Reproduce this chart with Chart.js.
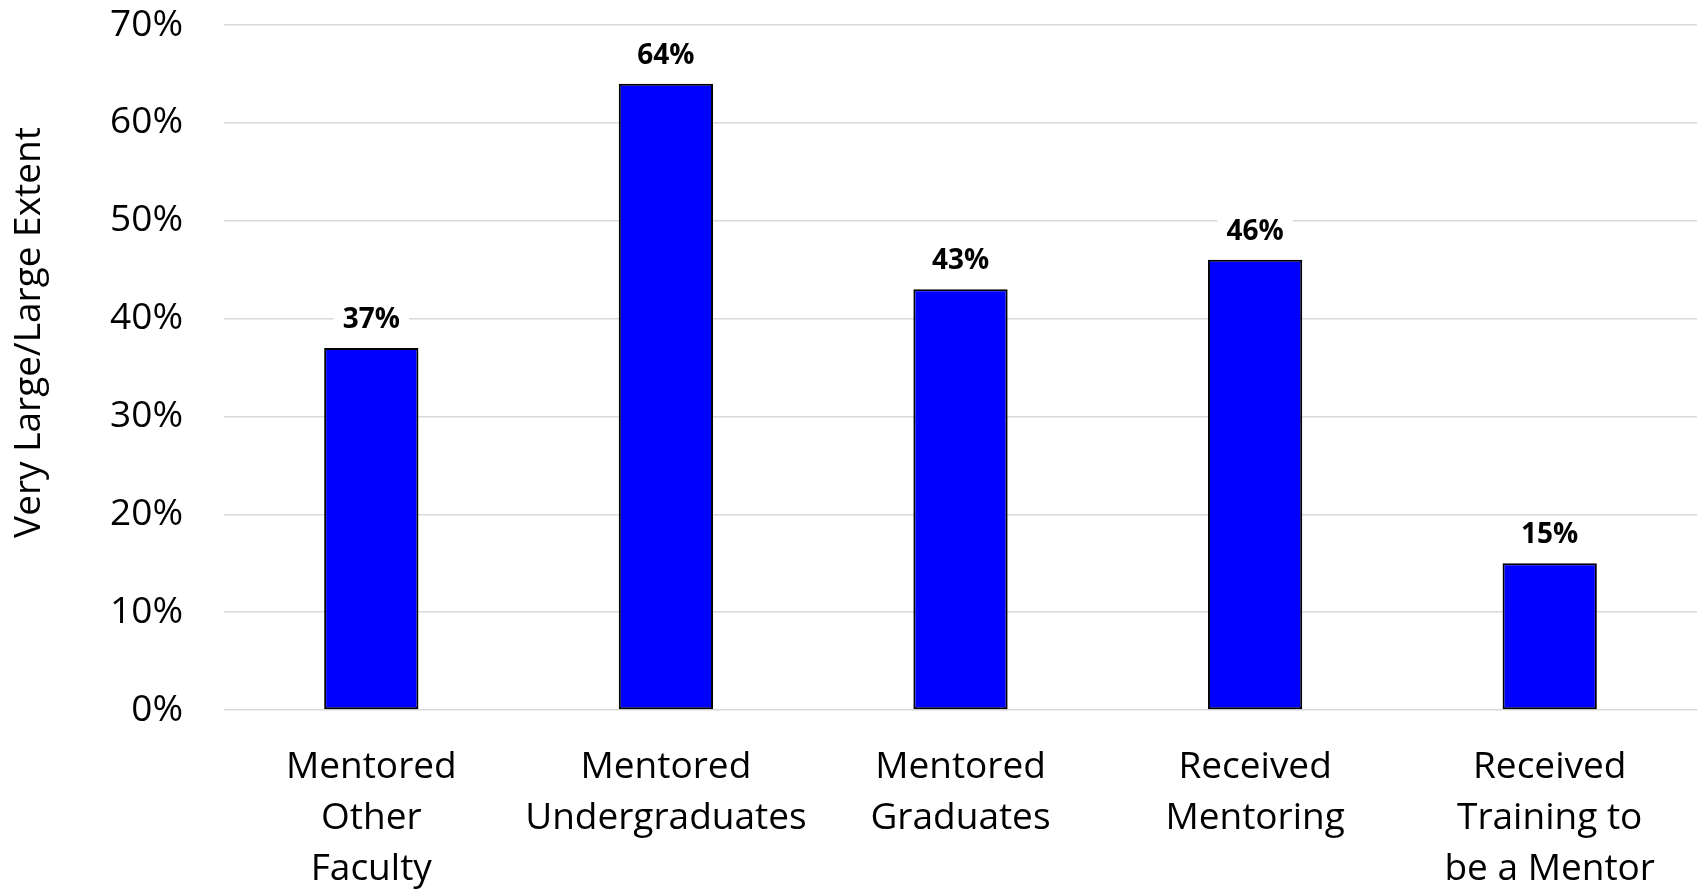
<!DOCTYPE html>
<html>
<head>
<meta charset="utf-8">
<script src="https://cdn.jsdelivr.net/npm/chart.js@4/dist/chart.umd.min.js"></script>
<style>
  html, body { margin: 0; padding: 0; background: #fff; }
  #wrap { width: 1700px; height: 890px; }
</style>
</head>
<body>
<div id="wrap"><canvas id="mentorChart" width="1700" height="890"></canvas></div>
<script>
const categories = [
    ['Mentored', 'Other', 'Faculty'],
    ['Mentored', 'Undergraduates'],
    ['Mentored', 'Graduates'],
    ['Received', 'Mentoring'],
    ['Received', 'Training to', 'be a Mentor']
];
const extentValues = [37, 64, 43, 46, 15]; // % answering very large / large extent
const yTicks = [0, 10, 20, 30, 40, 50, 60, 70];
const yTitle = 'Very Large/Large Extent';

// value labels above each bar, on a white box so the grid line stops behind them
const barLabels = {
    id: 'barLabels',
    afterDatasetsDraw(chart) {
        const ctx = chart.ctx;
        const meta = chart.getDatasetMeta(0);
        ctx.save();
        ctx.font = 'bold 28px "Open Sans"';
        ctx.textAlign = 'center';
        ctx.textBaseline = 'alphabetic';
        meta.data.forEach((bar, i) => {
            const txt = extentValues[i] + '%';
            const w = ctx.measureText(txt).width;
            const base = bar.y - 20;
            ctx.fillStyle = '#fff';
            ctx.fillRect(bar.x - w / 2 - 9, base - 27, w + 18, 33);
            ctx.fillStyle = '#000';
            ctx.fillText(txt, bar.x, base);
        });
        ctx.restore();
    }
};

// rotated axis title, sitting a little above the middle of the plot
const axisTitle = {
    id: 'axisTitle',
    afterDraw(chart) {
        const ctx = chart.ctx;
        const area = chart.chartArea;
        ctx.save();
        ctx.translate(29, (area.top + area.bottom) / 2 - 35);
        ctx.rotate(-Math.PI / 2);
        ctx.font = '37px "Open Sans"';
        ctx.fillStyle = '#000';
        ctx.textAlign = 'center';
        ctx.textBaseline = 'middle';
        ctx.fillText(yTitle, 0, 0);
        ctx.restore();
    }
};

const ctx = document.getElementById('mentorChart').getContext('2d');
const mentorChart = new Chart(ctx, {
    type: 'bar',
    data: {
        labels: categories,
        datasets: [{
            data: extentValues,
            backgroundColor: '#0000ff',
            borderColor: '#000',
            borderWidth: 2,
            borderSkipped: false,
            categoryPercentage: 1,
            barPercentage: 0.32
        }]
    },
    options: {
        responsive: false,
        animation: false,
        layout: { padding: { top: 25, right: 3, left: 0, bottom: 0 } },
        plugins: {
            legend: { display: false },
            tooltip: { enabled: false }
        },
        scales: {
            x: {
                grid: { display: false },
                border: { display: false },
                ticks: {
                    color: '#000',
                    font: { family: 'Open Sans', size: 37, lineHeight: 1.38 },
                    padding: 24,
                    maxRotation: 0,
                    autoSkip: false
                },
                afterFit(scale) { scale.height = 180; }
            },
            y: {
                min: 0,
                max: 70,
                afterBuildTicks(scale) {
                    scale.ticks = yTicks.map(v => ({ value: v }));
                },
                grid: { color: '#d9d9d9', lineWidth: 1.5, drawTicks: false },
                border: { display: false },
                ticks: {
                    color: '#000',
                    font: { family: 'Open Sans', size: 37 },
                    padding: 41,
                    callback: v => v + '%'
                },
                afterFit(scale) {
                    scale.width = 224;
                    scale.paddingTop = 0;
                    scale.paddingBottom = 0;
                }
            }
        }
    },
    plugins: [barLabels, axisTitle]
});
</script>
</body>
</html>
